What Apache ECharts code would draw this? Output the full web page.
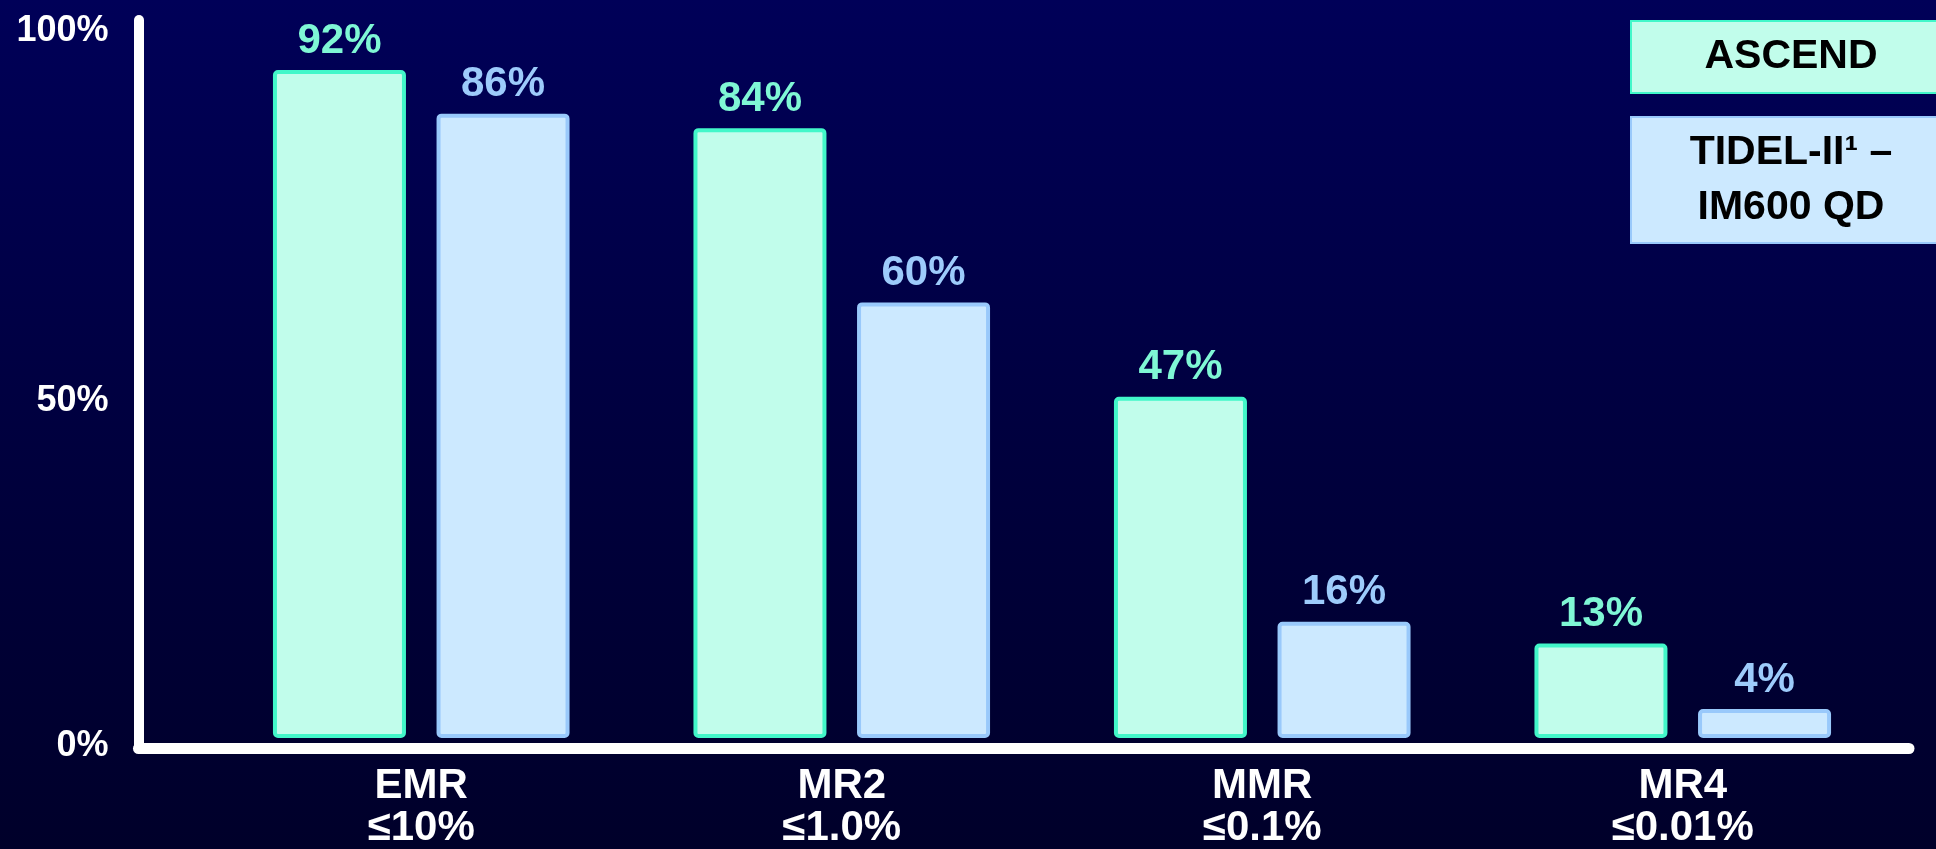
<!DOCTYPE html>
<html>
<head>
<meta charset="utf-8">
<script src="https://cdn.jsdelivr.net/npm/echarts@6/dist/echarts.min.js"></script>
<style>
    html, body { margin: 0; padding: 0; }
    #chart {
        width: 1936px;
        height: 849px;
        background: linear-gradient(to bottom, #000058 0%, #00003f 50%, #00002a 100%);
    }
</style>
</head>
<body>
<div id="chart"></div>
<script>
const categories = ['EMR\n≤10%', 'MR2\n≤1.0%', 'MMR\n≤0.1%', 'MR4\n≤0.01%'];
const ascendValues = [92, 84, 47, 13];
const tidelValues = [86, 60, 16, 4];
const seriesNames = ['ASCEND', 'TIDEL-II¹ –\nIM600 QD'];
const yTickLabels = ['0%', '50%', '100%'];

const FONT = '"Liberation Sans", Arial, sans-serif';
const green = { fill: '#c1fdeb', border: '#42f7c9', label: '#7ff7d5' };
const blue = { fill: '#cce9ff', border: '#99c9fb', label: '#9dcbfb' };

const chart = echarts.init(document.getElementById('chart'));

// caixa da legenda: fundo colorido com texto preto centralizado
function legendItem(name, c, lineH, pad) {
    const txt = { align: 'center', fontFamily: FONT, fontSize: 41, fontWeight: 'bold', color: '#000', lineHeight: lineH };
    return {
        name: name,
        icon: 'none',
        textStyle: {
            backgroundColor: c.fill,
            borderColor: c.border,
            borderWidth: 2,
            lineHeight: lineH,
            padding: [pad, 0],
            rich: { c: txt }
        }
    };
}

// pequeno ajuste vertical dos rótulos do eixo y (como no slide original)
const yLabelBase = { color: '#fff', fontFamily: FONT, fontSize: 36, fontWeight: 'bold' };
const yLabelRich = {
    top: Object.assign({ padding: [22, 0, 0, 0] }, yLabelBase),
    mid: Object.assign({ padding: [34, 0, 0, 0] }, yLabelBase),
    low: Object.assign({ padding: [0, 0, 4, 0] }, yLabelBase)
};

const option = {
    animation: false,
    grid: [
        // barras
        { left: 211, right: 43, top: 12, bottom: 106 },
        // eixos brancos
        { left: 138.5, right: 27, top: 20, bottom: 101 }
    ],
    legend: {
        orient: 'vertical',
        left: 1626,
        top: 20,
        padding: 0,
        itemGap: 22,
        itemWidth: 1,
        itemHeight: 1,
        selectedMode: false,
        textStyle: {
            fontFamily: FONT,
            fontSize: 41,
            fontWeight: 'bold',
            color: '#000',
            width: 318
        },
        formatter: (name) => name.split('\n').map((s) => `{c|${s}}`).join('\n'),
        data: [
            legendItem(seriesNames[0], green, 52, 9),
            legendItem(seriesNames[1], blue, 55, 7)
        ]
    },
    xAxis: [
        {
            type: 'category',
            gridIndex: 0,
            data: categories,
            axisLine: { show: false },
            axisTick: { show: false },
            axisLabel: {
                interval: 0,
                margin: 27,
                color: '#fff',
                fontFamily: FONT,
                fontSize: 42,
                fontWeight: 'bold',
                lineHeight: 42
            }
        },
        {
            type: 'category',
            gridIndex: 1,
            data: [''],
            axisLine: { lineStyle: { color: '#fff', width: 11 } },
            axisTick: { show: false },
            axisLabel: { show: false }
        }
    ],
    yAxis: [
        {
            type: 'value',
            gridIndex: 0,
            min: 0,
            max: 100,
            show: false
        },
        {
            type: 'value',
            gridIndex: 1,
            min: 0,
            max: 100,
            interval: 50,
            splitLine: { show: false },
            axisTick: { show: false },
            axisLine: { show: true, lineStyle: { color: '#fff', width: 10 } },
            axisLabel: {
                margin: 30,
                formatter: (v) => {
                    const key = v === 100 ? 'top' : v === 50 ? 'mid' : 'low';
                    return `{${key}|${yTickLabels[v / 50]}}`;
                },
                rich: yLabelRich
            }
        }
    ],
    series: [
        {
            name: seriesNames[0],
            type: 'bar',
            xAxisIndex: 0,
            yAxisIndex: 0,
            data: ascendValues,
            barWidth: 133,
            barGap: '23%',
            itemStyle: { color: green.fill, borderColor: green.border, borderWidth: 4, borderRadius: 3 },
            label: {
                show: true,
                position: 'top',
                distance: 8,
                formatter: '{c}%',
                color: green.label,
                fontFamily: FONT,
                fontSize: 42,
                fontWeight: 'bold'
            }
        },
        {
            name: seriesNames[1],
            type: 'bar',
            xAxisIndex: 0,
            yAxisIndex: 0,
            data: tidelValues,
            barWidth: 133,
            barGap: '23%',
            itemStyle: { color: blue.fill, borderColor: blue.border, borderWidth: 4, borderRadius: 3 },
            label: {
                show: true,
                position: 'top',
                distance: 8,
                formatter: '{c}%',
                color: blue.label,
                fontFamily: FONT,
                fontSize: 42,
                fontWeight: 'bold'
            }
        }
    ]
};

chart.setOption(option);
</script>
</body>
</html>
